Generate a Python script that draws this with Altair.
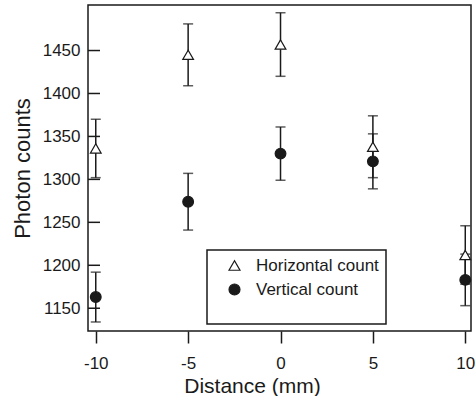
import altair as alt
import pandas as pd

distance = [-10, -5, 0, 5, 10]
horizontal = [1336, 1445, 1457, 1338, 1212]
horizontal_err = [34, 36, 37, 36, 34]
vertical = [1163, 1274, 1330, 1321, 1183]
vertical_err = [29, 33, 31, 32, 30]
y_ticks = [1150, 1200, 1250, 1300, 1350, 1400, 1450]
x_ticks = [-10, -5, 0, 5, 10]
series_names = ["Horizontal count", "Vertical count"]

rows = []
for d, v, e in zip(distance, horizontal, horizontal_err):
    rows.append({"d": d, "count": v, "lo": v - e, "hi": v + e, "series": series_names[0]})
for d, v, e in zip(distance, vertical, vertical_err):
    rows.append({"d": d, "count": v, "lo": v - e, "hi": v + e, "series": series_names[1]})
df = pd.DataFrame(rows)
ticks_df = pd.DataFrame({"t": y_ticks})

FONT = "Liberation Sans"
INK = "#1a1a1a"

xs = alt.Scale(domain=[-10.42, 10.31], nice=False, zero=False)
ys = alt.Scale(domain=[1123.5, 1503], nice=False, zero=False)

x_axis = alt.Axis(values=x_ticks, title="Distance (mm)", domain=False, grid=False,
                  tickSize=12, tickWidth=1.5, tickColor=INK,
                  labelExpr="'' + datum.value",
                  labelFont=FONT, labelFontSize=17, labelColor=INK,
                  labelBaseline="alphabetic", labelPadding=25,
                  titleFont=FONT, titleFontSize=21, titleFontWeight="normal", titleColor=INK,
                  titleBaseline="alphabetic", titleX=164, titleY=61, titleAlign="center")
y_axis = alt.Axis(values=y_ticks, title="Photon counts", domain=False, grid=False, ticks=False,
                  labelExpr="'' + datum.value",
                  labelFont=FONT, labelFontSize=17, labelColor=INK, labelPadding=8,
                  titleFont=FONT, titleFontSize=22, titleFontWeight="normal", titleColor=INK,
                  titlePadding=8)

base = alt.Chart(df)

stems = base.mark_rule(color=INK, strokeWidth=1.5).encode(
    x=alt.X("d:Q", scale=xs, axis=x_axis),
    y=alt.Y("lo:Q", scale=ys, axis=y_axis),
    y2="hi:Q",
)
caps_lo = base.mark_tick(orient="horizontal", color=INK, size=10, thickness=1.5).encode(
    x=alt.X("d:Q", scale=xs), y=alt.Y("lo:Q", scale=ys))
caps_hi = base.mark_tick(orient="horizontal", color=INK, size=10, thickness=1.5).encode(
    x=alt.X("d:Q", scale=xs), y=alt.Y("hi:Q", scale=ys))

ytick_marks = alt.Chart(ticks_df).mark_rule(color=INK, strokeWidth=1.5).encode(
    y=alt.Y("t:Q", scale=ys), x=alt.value(0), x2=alt.value(12))

leg = alt.Legend(title=" ", symbolStrokeColor=INK, symbolStrokeWidth=1.2)

points = base.mark_point(filled=True, strokeWidth=1.2, opacity=1, size=115).encode(
    x=alt.X("d:Q", scale=xs),
    y=alt.Y("count:Q", scale=ys),
    shape=alt.Shape("series:N", scale=alt.Scale(domain=series_names,
                                                range=["triangle-up", "circle"]), legend=leg),
    fill=alt.Fill("series:N", scale=alt.Scale(domain=series_names,
                                              range=["white", INK]), legend=leg),
    stroke=alt.Stroke("series:N", scale=alt.Scale(domain=series_names,
                                                  range=[INK, INK]), legend=leg),
)

chart = alt.layer(ytick_marks, stems, caps_lo, caps_hi, points).properties(
    width=383, height=326,
    autosize=alt.AutoSizeParams(type="none"),
    padding={"left": 88, "top": 5, "right": 4, "bottom": 65},
).configure_view(
    stroke=INK, strokeWidth=1.5
).configure_legend(
    orient="none", legendX=119, legendY=245,
    strokeColor=INK, strokeWidth=1.5, padding=7,
    symbolOffset=12, labelOffset=13, rowPadding=6,
    symbolSize=120, symbolStrokeColor=INK, symbolStrokeWidth=1.2,
    labelFont=FONT, labelFontSize=17, labelColor=INK,
    titleOrient="bottom", titleFontSize=14, titlePadding=5, titleFont=FONT,
)

chart.save("out.html", embed_options={"renderer": "svg", "actions": False})
